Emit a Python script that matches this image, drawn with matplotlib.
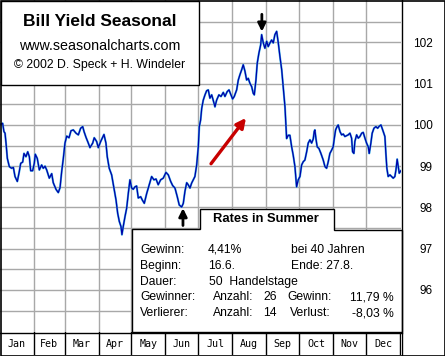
import numpy as np
import matplotlib
matplotlib.use('Agg')
import matplotlib.pyplot as plt
from matplotlib.patches import Polygon, Rectangle

# seasonal pattern (day of year, index value)
days = [0.9, 2.4, 3.6, 4.6, 5.5, 6.7, 8.5, 10.6, 12.2, 13.7, 15.8, 17.6, 18.9, 20.7,
        21.9, 23.7, 25.3, 26.8, 28.0, 29.8, 31.3, 32.2, 34.0, 35.9, 38.0, 39.5, 41.1,
        42.6, 45.0, 47.2, 48.6, 51.1, 53.2, 54.8, 56.3, 57.8, 59.3, 60.9, 63.0, 64.8,
        66.9, 69.4, 71.5, 73.6, 75.5, 76.7, 78.5, 80.6, 82.1, 84.6, 86.0, 88.2, 89.7,
        91.9, 93.7, 94.9, 96.7, 97.9, 99.7, 101.9, 104.0, 105.9, 107.4, 108.9, 110.4,
        111.3, 112.5, 114.1, 115.6, 117.1, 118.6, 120.2, 121.6, 123.2, 124.7, 126.2,
        128.4, 129.9, 131.7, 133.9, 136.2, 138.4, 140.5, 142.4, 144.4, 146.6, 149.0,
        151.5, 153.6, 155.8, 157.6, 159.7, 161.8, 163.6, 165.8, 167.3, 168.8, 170.4,
        171.8, 173.4, 174.9, 176.4, 177.9, 179.5, 181.0, 181.9, 183.1, 184.1, 185.5,
        187.1, 188.6, 190.1, 191.6, 193.2, 194.6, 196.2, 197.7, 199.8, 201.7, 203.8,
        205.3, 207.4, 209.0, 210.8, 212.3, 213.8, 216.0, 217.5, 219.0, 220.6, 222.0,
        223.6, 225.1, 226.6, 228.1, 229.7, 231.1, 232.1, 233.6, 234.8, 236.3, 237.9,
        238.8, 240.3, 241.8, 243.4, 244.8, 246.4, 247.9, 249.4, 250.9, 252.5, 254.0,
        255.5, 257.1, 258.5, 260.1, 261.0, 261.6, 263.1, 264.6, 266.2, 267.6, 269.2,
        270.7, 272.2, 273.8, 275.3, 276.8, 278.3, 279.9, 281.3, 282.9, 284.4, 285.9,
        286.8, 287.4, 288.4, 289.5, 291.1, 292.9, 295.0, 296.6, 298.1, 299.6, 301.1,
        302.7, 304.1, 305.1, 306.3, 307.8, 308.7, 310.3, 311.8, 313.3, 314.8, 316.4,
        317.8, 319.4, 320.9, 321.8, 323.0, 323.9, 325.5, 327.0, 328.5, 330.1, 331.5,
        333.1, 334.6, 336.1, 337.0, 338.5, 339.7, 341.3, 343.1, 344.7, 346.1, 347.7,
        348.8, 349.8, 351.3, 352.2, 353.1, 354.3, 355.9, 357.4, 358.9, 360.4, 361.4,
        362.5, 363.5, 364.4, 365.9]
values = [100.02, 100.04, 99.84, 99.80, 99.56, 99.19, 98.99, 98.95, 98.97, 98.75, 98.63,
          98.87, 99.07, 99.10, 99.31, 99.23, 99.35, 99.23, 98.89, 98.89, 99.07, 99.29,
          99.19, 98.91, 99.03, 98.95, 99.00, 98.91, 98.71, 98.82, 98.60, 98.44, 98.36,
          98.48, 98.87, 99.19, 99.56, 99.73, 99.69, 99.86, 99.88, 99.80, 99.76, 99.92,
          99.96, 99.84, 99.70, 99.56, 99.45, 99.56, 99.69, 99.60, 99.45, 99.60, 99.70,
          99.77, 99.56, 99.23, 98.95, 98.79, 98.47, 98.18, 97.86, 97.66, 97.54, 97.34,
          97.54, 97.78, 97.98, 98.34, 98.67, 98.47, 98.44, 98.50, 98.52, 98.23, 98.26,
          98.18, 98.10, 98.34, 98.55, 98.75, 98.67, 98.69, 98.55, 98.67, 98.71, 98.85,
          98.79, 98.63, 98.53, 98.47, 98.26, 98.06, 98.01, 98.10, 98.39, 98.60, 98.55,
          98.47, 98.59, 98.67, 98.75, 99.03, 99.47, 99.96, 100.12, 100.40, 100.60,
          100.73, 100.83, 100.85, 100.65, 100.73, 100.60, 100.44, 100.60, 100.73, 100.69,
          100.79, 100.69, 100.81, 100.85, 100.73, 100.63, 100.69, 100.85, 101.09, 101.22,
          101.34, 101.46, 101.30, 101.09, 101.13, 101.01, 100.93, 100.77, 100.73, 101.09,
          101.50, 101.74, 101.94, 102.19, 101.99, 101.86, 102.03, 101.90, 101.99, 102.06,
          101.99, 102.19, 102.27, 101.99, 101.66, 101.34, 100.93, 100.44, 99.99, 99.67,
          99.75, 99.75, 99.47, 99.27, 98.99, 98.50, 98.67, 98.75, 99.03, 99.11, 99.15,
          99.35, 99.56, 99.64, 99.56, 99.66, 99.84, 99.88, 99.66, 99.47, 99.43, 99.31,
          99.15, 98.99, 98.95, 99.11, 99.31, 99.39, 99.47, 99.67, 99.88, 99.97, 100.00,
          99.84, 99.76, 99.78, 99.72, 99.74, 99.76, 99.80, 99.68, 99.35, 99.31, 99.60,
          99.76, 99.68, 99.72, 99.80, 99.82, 99.68, 99.56, 99.47, 99.31, 99.56, 99.80,
          99.92, 99.96, 99.92, 99.97, 100.00, 99.92, 99.84, 99.72, 99.31, 98.95, 98.75,
          98.79, 98.75, 98.71, 98.75, 98.91, 99.17, 98.99, 98.83, 98.89]

months = ['Jan', 'Feb', 'Mar', 'Apr', 'May', 'Jun', 'Jul', 'Aug', 'Sep', 'Oct', 'Nov', 'Dec']
month_len = [31, 28, 31, 30, 31, 30, 31, 31, 30, 31, 30, 31]
ytick_vals = [96, 97, 98, 99, 100, 101, 102]

start_day = 167   # 16.6.
end_day = 239     # 27.8.

title = 'Bill Yield Seasonal'
subtitle = 'www.seasonalcharts.com'
copyright_txt = '\u00a9 2002 D. Speck + H. Windeler'
box_title = 'Rates in Summer'

W, H = 445, 356
fig = plt.figure(figsize=(W / 100, H / 100), dpi=100)
fig.patch.set_facecolor('white')

bounds = np.cumsum([0] + month_len)
XMAX = 366
YMIN, YMAX = 94.98, 103.03

# main chart
ax = fig.add_axes([0, 24 / H, 401 / W, 332 / H])
ax.set_xlim(0, XMAX)
ax.set_ylim(YMIN, YMAX)
ax.set_xticks(bounds[1:-1])
ax.set_xticklabels([])
half_steps = np.arange(95.5, 103.0, 0.5)
ax.set_yticks(half_steps)
ax.set_yticklabels([str(int(v)) if v in ytick_vals else '' for v in half_steps])
ax.yaxis.tick_right()
ax.tick_params(length=0)
ax.tick_params(axis='y', pad=23, labelsize=8.5)
for lab in ax.get_yticklabels():
    lab.set_horizontalalignment('right')
    lab.set_fontfamily('Liberation Sans')
ax.grid(True, color='#a8a8a8', lw=1.0)
ax.set_axisbelow(True)
for s in ax.spines.values():
    s.set_visible(False)

ax.plot(days, values, color='#40b8e8', lw=1.5)
ax.plot(days, values, color='#0000a8', lw=0.9)

# arrows at begin / end of the seasonal window
v_start = np.interp(start_day, days, values)
v_end = np.interp(end_day, days, values)
ax.annotate('', xy=(start_day, v_start - 0.1), xytext=(start_day, v_start - 0.52),
            arrowprops=dict(arrowstyle='-|>', color='black', lw=2, mutation_scale=12,
                            shrinkA=0, shrinkB=0))
ax.annotate('', xy=(end_day, v_end + 0.1), xytext=(end_day, v_end + 0.52),
            arrowprops=dict(arrowstyle='-|>', color='black', lw=2, mutation_scale=12,
                            shrinkA=0, shrinkB=0))
ax.annotate('', xy=(224.5, 100.17), xytext=(192.6, 99.06),
            arrowprops=dict(arrowstyle='-|>', color='#c80000', lw=2.4, mutation_scale=14,
                            shrinkA=0, shrinkB=0))

# month strip
axm = fig.add_axes([0, 1 / H, 401 / W, 23 / H])
axm.set_xlim(0, XMAX)
axm.set_ylim(0, 1)
axm.set_xticks([])
axm.set_yticks([])
for s in axm.spines.values():
    s.set_visible(False)
for b in bounds[1:]:
    axm.axvline(b, color='black', lw=1)
for i, m in enumerate(months):
    axm.text((bounds[i] + bounds[i + 1]) / 2, 0.48, m, ha='center', va='center',
             fontsize=7.2, family='DejaVu Sans Mono')

# overlay in pixel coordinates for boxes and texts
ov = fig.add_axes([0, 0, 1, 1])
ov.set_xlim(0, W)
ov.set_ylim(H, 0)
ov.axis('off')
ov.patch.set_alpha(0)

ov.add_patch(Rectangle((0.5, 0.5), 198.5, 84.5, facecolor='white', edgecolor='black', lw=1))
ov.add_patch(Polygon([(131.5, 332), (131.5, 228.5), (199.5, 228.5), (199.5, 208.5),
                      (333.5, 208.5), (333.5, 229.5), (401.5, 229.5), (401.5, 332)],
                     closed=True, facecolor='white', edgecolor='black', lw=1))
ov.plot([0, 401.5], [332.5, 332.5], color='black', lw=1)
ov.plot([401.5, 401.5], [0, H], color='black', lw=1)
ov.add_patch(Rectangle((0.5, 0.5), W - 1, H - 1, fill=False, edgecolor='black', lw=1.2))

ov.text(100, 21, title, ha='center', va='center', fontsize=12.5, fontweight='bold',
        family='Liberation Sans')
ov.text(100, 46, subtitle, ha='center', va='center', fontsize=10.3, family='Liberation Sans')
ov.text(100, 65, copyright_txt, ha='center', va='center', fontsize=8.8, family='Liberation Sans')

ov.text(266, 219, box_title, ha='center', va='center', fontsize=9.4, fontweight='bold',
        family='Liberation Sans')

rows_y = [250, 266, 282, 297, 313]
left_labels = ['Gewinn:', 'Beginn:', 'Dauer:', 'Gewinner:', 'Verlierer:']
mid_labels = ['4,41%', '16.6.', '50  Handelstage', 'Anzahl:', 'Anzahl:']
mid_x = [208, 208, 209, 213, 213]
counts = ['', '', '', '26', '14']
right_labels = ['bei 40 Jahren', 'Ende: 27.8.', '', 'Gewinn:', 'Verlust:']
right_x = [291, 291, 291, 287, 290]
pcts = ['', '', '', '11,79 %', '-8,03 %']

fs = 8.7
for i, y in enumerate(rows_y):
    ov.text(140, y, left_labels[i], ha='left', va='center', fontsize=fs, family='Liberation Sans')
    ov.text(mid_x[i], y, mid_labels[i], ha='left', va='center', fontsize=fs, family='Liberation Sans')
    if counts[i]:
        ov.text(277, y, counts[i], ha='right', va='center', fontsize=fs, family='Liberation Sans')
    if right_labels[i]:
        ov.text(right_x[i], y, right_labels[i], ha='left', va='center', fontsize=fs,
                family='Liberation Sans')
    if pcts[i]:
        ov.text(394, y, pcts[i], ha='right', va='center', fontsize=fs, family='Liberation Sans')

plt.savefig('out.png', dpi=100)
